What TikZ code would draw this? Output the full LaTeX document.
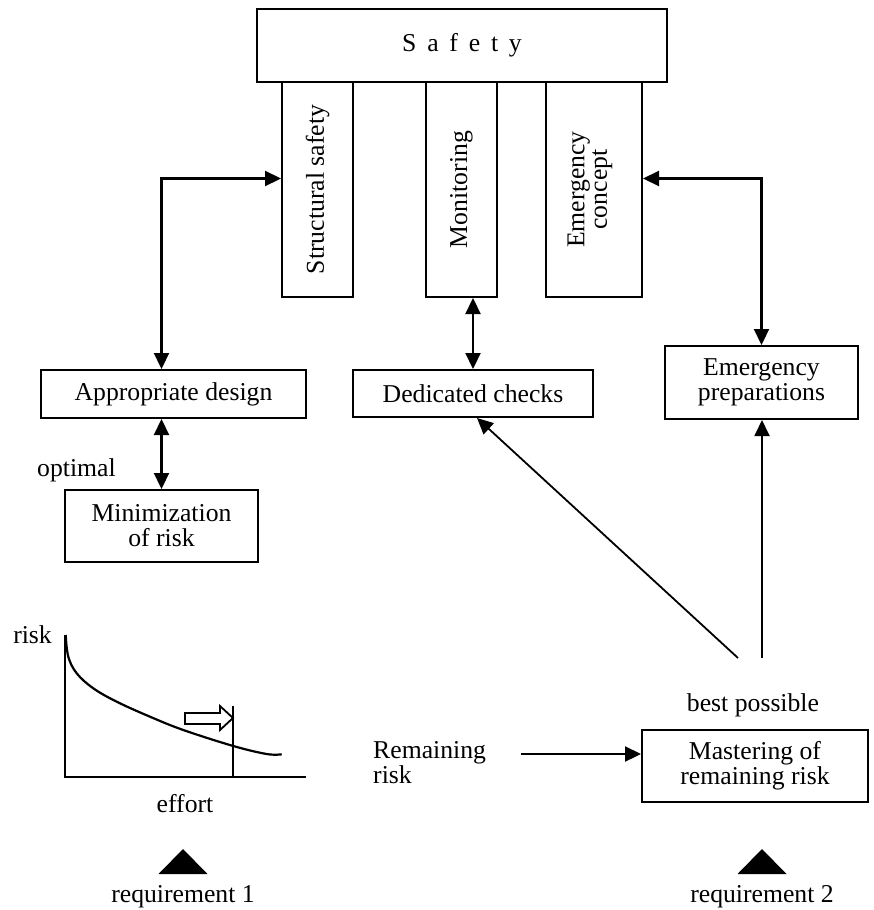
\documentclass[tikz,border=0pt]{standalone}
\usepackage{fontspec}
\setmainfont{Liberation Serif}
\usetikzlibrary{arrows.meta,calc}
\begin{document}
\begin{tikzpicture}[x=1pt,y=-1pt,
  >={Triangle[length=16pt,width=15pt]},
  box/.style={draw, line width=2pt, inner sep=0pt},
  txt/.style={font=\fontsize{25.7}{25}\selectfont, align=center, inner sep=0pt},
  con/.style={line width=2.2pt},
  thinline/.style={line width=1.8pt},
  dbl/.style={con, <->},
  arr/.style={con, ->}]
\useasboundingbox (0,0) rectangle (873,910);

% pillars under the roof
\node[box, minimum width=71pt, minimum height=215pt] (struct) at (317.5,189.5) {};
\node[txt, rotate=90] at (struct.center) {Structural safety};
\node[box, minimum width=71pt, minimum height=215pt] (monit) at (461.5,189.5) {};
\node[txt, rotate=90] at (monit.center) {Monitoring};
\node[box, minimum width=96pt, minimum height=215pt] (econc) at (594,189.5) {};
\node[txt, rotate=90, font=\fontsize{25.7}{22.5}\selectfont] at ($(econc.center)+(-4,0)$) {Emergency\\concept};

% roof
\node[box, fill=white, minimum width=410pt, minimum height=73pt] (safety) at (462,45.5) {};
\node[txt] at (safety.center) {\spaceskip=0.42em S a f e t y};

% measures
\node[box, txt, minimum width=265pt, minimum height=48pt] (appr) at (173.5,394) {Appropriate design};
\node[box, txt, minimum width=240pt, minimum height=47pt] (ded) at (473,393.5) {Dedicated checks};
\node[box, txt, minimum width=193pt, minimum height=73pt] (eprep) at (761.5,382.5) {Emergency\\preparations};
\node[box, txt, minimum width=193pt, minimum height=72pt] (mini) at (161.5,526) {Minimization\\of risk};
\node[box, txt, minimum width=226pt, minimum height=72pt] (mast) at (755,766) {Mastering of\\remaining risk};

% labels
\node[txt, anchor=base west] (opt) at (37,476) {optimal};
\node[txt, anchor=base] (best) at (753,711.7) {best possible};
\node[txt, anchor=base west] (rem1) at (373,758.7) {Remaining};
\node[txt, anchor=base west] (rem2) at (373,783) {risk};

% connectors
\coordinate (yl) at (0,178.5);
\draw[dbl] (mini.north |- appr.north) |- (struct.west |- yl);
\draw[dbl] (appr.south -| mini.north) -- (mini.north);
\draw[dbl] (ded.north) -- (ded.north |- monit.south);
\draw[dbl] (econc.east |- yl) -| (eprep.north);
\coordinate (d1) at (738,658);
\coordinate (d2) at (762,658);
\draw[arr, thinline] (d1) -- ($(ded.south)+(4,0)$);
\draw[arr, thinline] (d2) -- (d2 |- eprep.south);
\coordinate (rt) at (521,754);
\draw[arr] (rt) -- (rt -| mast.west);

% risk versus effort graph
\coordinate (ytop) at (65,635);
\coordinate (org) at (65,777);
\coordinate (xend) at (306,777);
\coordinate (mk) at (233,706);
\draw[con] (ytop) -- (org) -- (xend);
\draw[con] (mk) -- (mk |- org);
\draw[con] plot[smooth, tension=0.6] coordinates {(65.7,635) (68.3,656.7) (76.7,673.3) (93.3,688.3) (116.7,701.7) (150,716.7) (183.3,730) (233.3,746) (266.7,754) (281.7,754.3)};
\draw[thinline, fill=white] (185,713) -- (220,713) -- (220,706) -- (233,718) -- (220,730) -- (220,724) -- (185,724) -- cycle;
\node[txt, anchor=base east] (risklbl) at (52,643) {risk};
\node[txt, anchor=base] (effort) at (185,812.7) {effort};

% requirement markers
\fill (183,849) -- (158.5,874) -- (207.5,874) -- cycle;
\fill (762,849) -- (737.5,874) -- (786.5,874) -- cycle;
\node[txt, anchor=base] (req1) at (183,902) {requirement 1};
\node[txt, anchor=base] (req2) at (762,902) {requirement 2};
\end{tikzpicture}
\end{document}
